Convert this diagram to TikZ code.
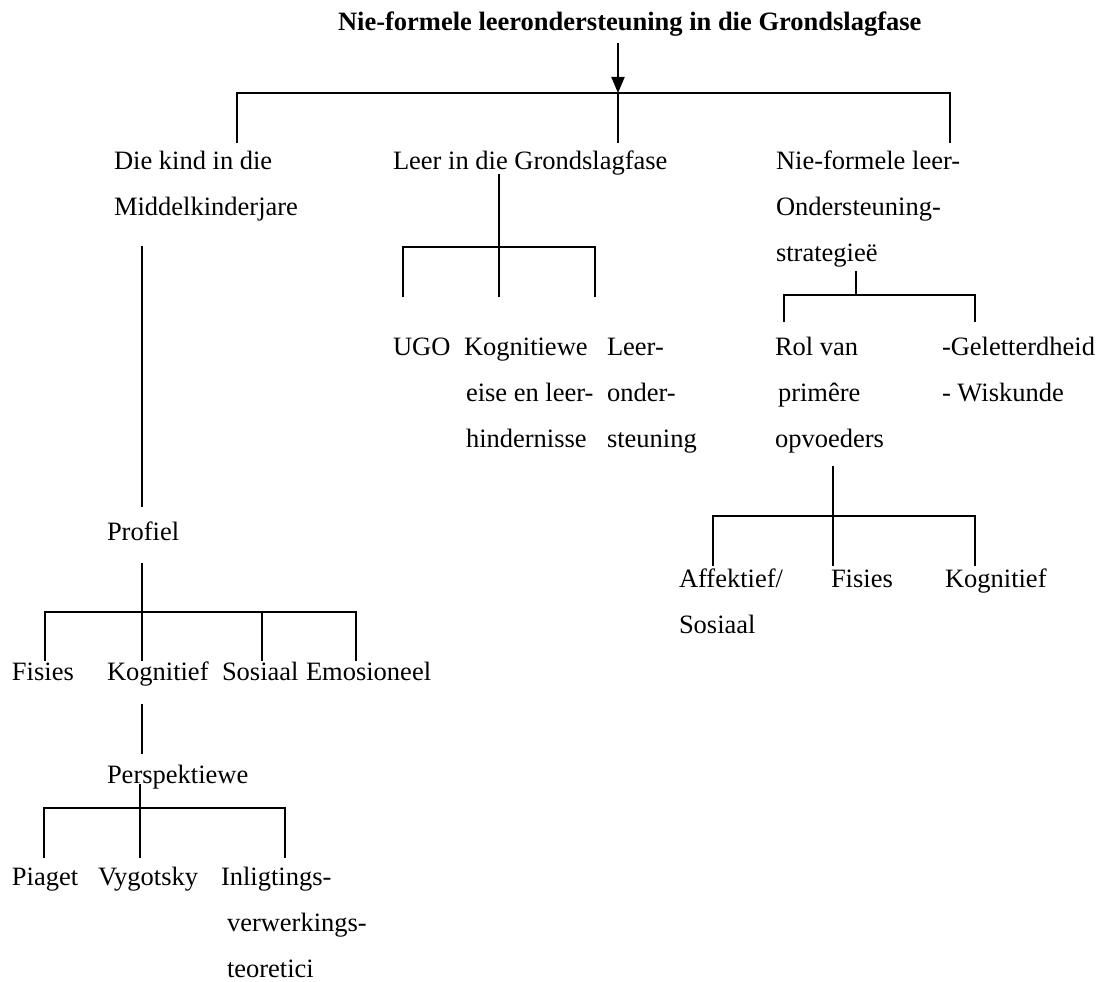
\documentclass[tikz,border=0pt]{standalone}
\usepackage{fontspec}
\setmainfont{Liberation Serif}
\usetikzlibrary{arrows.meta}
\begin{document}
\begin{tikzpicture}[x=1pt, y=-1pt,
  lbl/.style={anchor=base west, inner sep=0pt, outer sep=0pt,
              font=\fontsize{26.5}{46}\selectfont},
  ttl/.style={lbl, font=\fontsize{26.5}{46}\selectfont\bfseries},
  link/.style={line width=1.9pt, line cap=rect},
  feed/.style={line width=1.9pt, -{Triangle[length=16pt,width=13pt]}}]
\useasboundingbox (0,0) rectangle (1103,982);

% ---------- texts ----------
\node[ttl] (title) at (338,31) {Nie-formele leerondersteuning in die Grondslagfase};

\node[lbl] (kind) at (114,169) {\vtop{\hbox{Die kind in die}\hbox{Middelkinderjare}}};
\node[lbl] (leer) at (393,169) {Leer in die Grondslagfase};
\node[lbl] (nfl)  at (776,169) {\vtop{\hbox{Nie-formele leer-}\hbox{Ondersteuning-}\hbox{strategieë}}};

\node[lbl] (ugo)  at (393,355) {UGO};
\node[lbl] (keis) at (464,355) {\vtop{\hbox{Kognitiewe}\hbox{\kern2pt eise en leer-}\hbox{\kern2pt hindernisse}}};
\node[lbl] (lond) at (607,355) {\vtop{\hbox{Leer-}\hbox{onder-}\hbox{steuning}}};

\node[lbl] (rol)  at (775,355) {\vtop{\hbox{Rol van}\hbox{\kern3pt primêre}\hbox{opvoeders}}};
\node[lbl] (gel)  at (942,355) {\vtop{\hbox{-Geletterdheid}\hbox{- Wiskunde}}};

\node[lbl] (aff)  at (679,587) {\vtop{\hbox{Affektief/}\hbox{Sosiaal}}};
\node[lbl] (fisb) at (831,587) {Fisies};
\node[lbl] (kogc) at (945,587) {Kognitief};

\node[lbl] (prof) at (107,540) {Profiel};
\node[lbl] (fisa) at (12,680)  {Fisies};
\node[lbl] (koga) at (107,680) {Kognitief};
\node[lbl] (sos)  at (222,680) {Sosiaal};
\node[lbl] (emo)  at (306,680) {Emosioneel};

\node[lbl] (pers) at (107,783) {Perspektiewe};
\node[lbl] (pia)  at (12,885)  {Piaget};
\node[lbl] (vyg)  at (98,885)  {Vygotsky};
\node[lbl] (inl)  at (221,885) {\vtop{\hbox{Inligtings-}\hbox{\kern6pt verwerkings-}\hbox{\kern6pt teoretici}}};

% ---------- connector end points ----------
\coordinate (tOut)  at (618,43);
\coordinate (tJ)    at (618,93);
\coordinate (kindIn) at (237,142);
\coordinate (leerIn) at (618,142);
\coordinate (nflIn)  at (950,142);

\coordinate (kindOut) at (142,247);
\coordinate (profIn)  at (142,506);

\coordinate (leerOut) at (499,175);
\coordinate (leerJ)   at (499,247);
\coordinate (ugoIn)   at (403,296);
\coordinate (keisIn)  at (499,296);
\coordinate (londIn)  at (595,296);

\coordinate (nflOut)  at (856,272);
\coordinate (nflJ)    at (856,295);
\coordinate (rolIn)   at (784,321);
\coordinate (gelIn)   at (975,321);

\coordinate (rolOut)  at (833,467);
\coordinate (rolJ)    at (833,516);
\coordinate (affIn)   at (713,565);
\coordinate (fisbIn)  at (833,565);
\coordinate (kogcIn)  at (975,565);

\coordinate (profOut) at (142,564);
\coordinate (profJ)   at (142,612);
\coordinate (fisaIn)  at (45,660);
\coordinate (kogaIn)  at (142,660);
\coordinate (sosIn)   at (262,660);
\coordinate (emoIn)   at (356,660);

\coordinate (kogaOut) at (142,705);
\coordinate (persIn)  at (142,753);

\coordinate (persOut) at (140,785);
\coordinate (persJ)   at (140,808);
\coordinate (piaIn)   at (44,857);
\coordinate (vygIn)   at (140,857);
\coordinate (inlIn)   at (285,857);

% ---------- connectors ----------
\draw[feed] (tOut) -- (tJ);
\draw[link] (kindIn) |- (tJ) -| (nflIn);
\draw[link] (tJ) -- (leerIn);

\draw[link] (kindOut) -- (profIn);

\draw[link] (leerOut) -- (keisIn);
\draw[link] (ugoIn) |- (leerJ) -| (londIn);

\draw[link] (nflOut) -- (nflJ);
\draw[link] (rolIn) |- (nflJ) -| (gelIn);

\draw[link] (rolOut) -- (fisbIn);
\draw[link] (affIn) |- (rolJ) -| (kogcIn);

\draw[link] (profOut) -- (kogaIn);
\draw[link] (fisaIn) |- (profJ) -| (emoIn);
\draw[link] (profJ -| sosIn) -- (sosIn);

\draw[link] (kogaOut) -- (persIn);

\draw[link] (persOut) -- (vygIn);
\draw[link] (piaIn) |- (persJ) -| (inlIn);
\end{tikzpicture}
\end{document}
